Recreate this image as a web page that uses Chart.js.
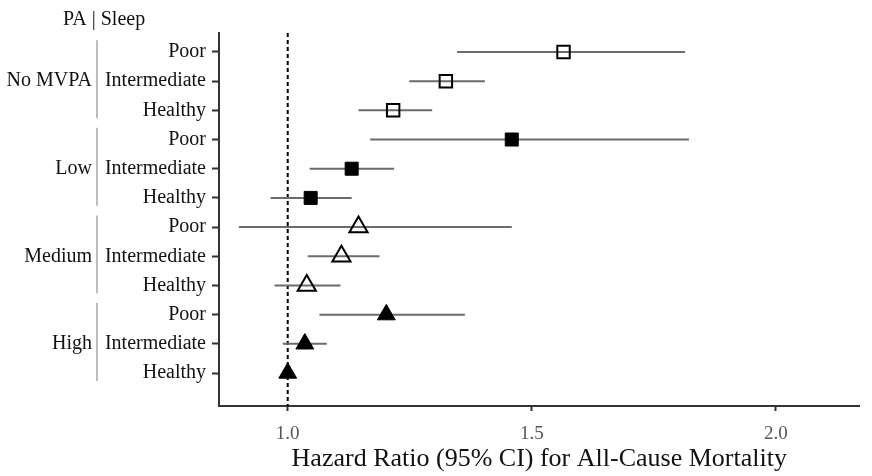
<!DOCTYPE html>
<html>
<head>
<meta charset="utf-8">
<script src="https://cdn.jsdelivr.net/npm/chart.js@4/dist/chart.umd.min.js"></script>
<style>
  html, body { margin: 0; padding: 0; background: #fff; }
  canvas { display: block; }
</style>
</head>
<body>
<canvas id="grafica" width="872" height="476"></canvas>
<script>
// datos
const sleepLabels = ['Poor', 'Intermediate', 'Healthy', 'Poor', 'Intermediate', 'Healthy',
                     'Poor', 'Intermediate', 'Healthy', 'Poor', 'Intermediate', 'Healthy'];
const paGroups = ['No MVPA', 'Low', 'Medium', 'High'];
const hr     = [1.565, 1.324, 1.216, 1.459, 1.131, 1.047, 1.145, 1.110, 1.039, 1.202, 1.035, 1.000];
const ciLow  = [1.347, 1.249, 1.145, 1.169, 1.045, 0.965, 0.900, 1.041, 0.973, 1.065, 0.990, 1.000];
const ciHigh = [1.814, 1.404, 1.296, 1.822, 1.218, 1.131, 1.459, 1.188, 1.108, 1.363, 1.080, 1.000];
const xTicks = [1.0, 1.5, 2.0];
const refValue = 1.0;

const serif = "'Liberation Serif', 'Times New Roman', serif";
const Y_MIN = -0.65, Y_MAX = 12.13;

// estilo de marcador por grupo de actividad
const estilos = [
    { pointStyle: 'rect', radius: 8.8, fill: 'rgba(0,0,0,0)', width: 2 },
    { pointStyle: 'rect', radius: 9.2, fill: '#000', width: 1 },
    { pointStyle: 'triangle', radius: 10.5, fill: 'rgba(0,0,0,0)', width: 2 },
    { pointStyle: 'triangle', radius: 10.3, fill: '#000', width: 1 }
];

const puntos = paGroups.map((g, gi) => ({
    label: g,
    order: 0,
    data: [0, 1, 2].map(k => ({ x: hr[gi * 3 + k], y: gi * 3 + k })),
    pointStyle: estilos[gi].pointStyle,
    pointRadius: estilos[gi].radius,
    pointBackgroundColor: estilos[gi].fill,
    pointBorderColor: '#000',
    pointBorderWidth: estilos[gi].width,
    showLine: false
}));

const intervalos = hr.map((v, i) => ({
    label: 'ci' + i,
    order: 1,
    data: [{ x: ciLow[i], y: i }, { x: ciHigh[i], y: i }],
    showLine: true,
    borderColor: '#6b6b6b',
    borderWidth: 2,
    pointRadius: 0
}));

const referencia = {
    label: 'ref',
    order: 2,
    data: [{ x: refValue, y: Y_MIN }, { x: refValue, y: Y_MAX }],
    showLine: true,
    borderColor: '#000',
    borderWidth: 2,
    borderDash: [4, 3],
    pointRadius: 0
};

// etiquetas de grupo y separadores a la izquierda
const gruposPlugin = {
    id: 'grupos',
    afterDraw(chart) {
        const ctx = chart.ctx;
        const y = chart.scales.y;
        const fila = Math.abs(y.getPixelForValue(1) - y.getPixelForValue(0));
        ctx.save();
        ctx.font = '20px ' + serif;
        ctx.fillStyle = '#111';
        ctx.textBaseline = 'middle';
        ctx.textAlign = 'left';
        ctx.fillText('PA | Sleep', 63, 20);
        ctx.textAlign = 'right';
        paGroups.forEach((g, gi) => {
            const y0 = y.getPixelForValue(gi * 3);
            const y2 = y.getPixelForValue(gi * 3 + 2);
            ctx.fillText(g, 92, y.getPixelForValue(gi * 3 + 1));
            ctx.strokeStyle = '#a8a8a8';
            ctx.lineWidth = 1.5;
            ctx.beginPath();
            ctx.moveTo(97, y0 - fila * 0.4);
            ctx.lineTo(97, y2 + fila * 0.27);
            ctx.stroke();
        });
        ctx.restore();
    }
};

new Chart(document.getElementById('grafica'), {
    type: 'scatter',
    data: { datasets: [...puntos, ...intervalos, referencia] },
    options: {
        responsive: false,
        animation: false,
        layout: { padding: { top: 33, right: 10, left: 0, bottom: 0 } },
        plugins: {
            legend: { display: false },
            tooltip: { enabled: false }
        },
        scales: {
            x: {
                type: 'linear',
                min: 0.8592,
                max: 2.1714,
                afterBuildTicks: (s) => { s.ticks = xTicks.map(v => ({ value: v })); },
                afterFit: (s) => { s.height = 70; },
                ticks: {
                    callback: (v) => v.toFixed(1),
                    color: '#555',
                    font: { family: serif, size: 19 },
                    padding: 12,
                    maxRotation: 0
                },
                grid: { drawOnChartArea: false, drawTicks: true, tickLength: 5, tickColor: '#333', tickWidth: 2 },
                border: { color: '#333', width: 2 },
                title: {
                    display: true,
                    text: 'Hazard Ratio (95% CI) for All-Cause Mortality',
                    color: '#111',
                    font: { family: serif, size: 26 },
                    padding: { top: 0, bottom: 1 }
                }
            },
            y: {
                type: 'linear',
                reverse: true,
                min: Y_MIN,
                max: Y_MAX,
                afterBuildTicks: (s) => { s.ticks = sleepLabels.map((_, i) => ({ value: i })); },
                afterFit: (s) => { s.width = 219; },
                ticks: {
                    callback: (v) => sleepLabels[v],
                    color: '#111',
                    font: { family: serif, size: 20 },
                    padding: 6
                },
                grid: { drawOnChartArea: false, drawTicks: true, tickLength: 7, tickColor: '#333', tickWidth: 2 },
                border: { color: '#333', width: 2 }
            }
        }
    },
    plugins: [gruposPlugin]
});
</script>
</body>
</html>
